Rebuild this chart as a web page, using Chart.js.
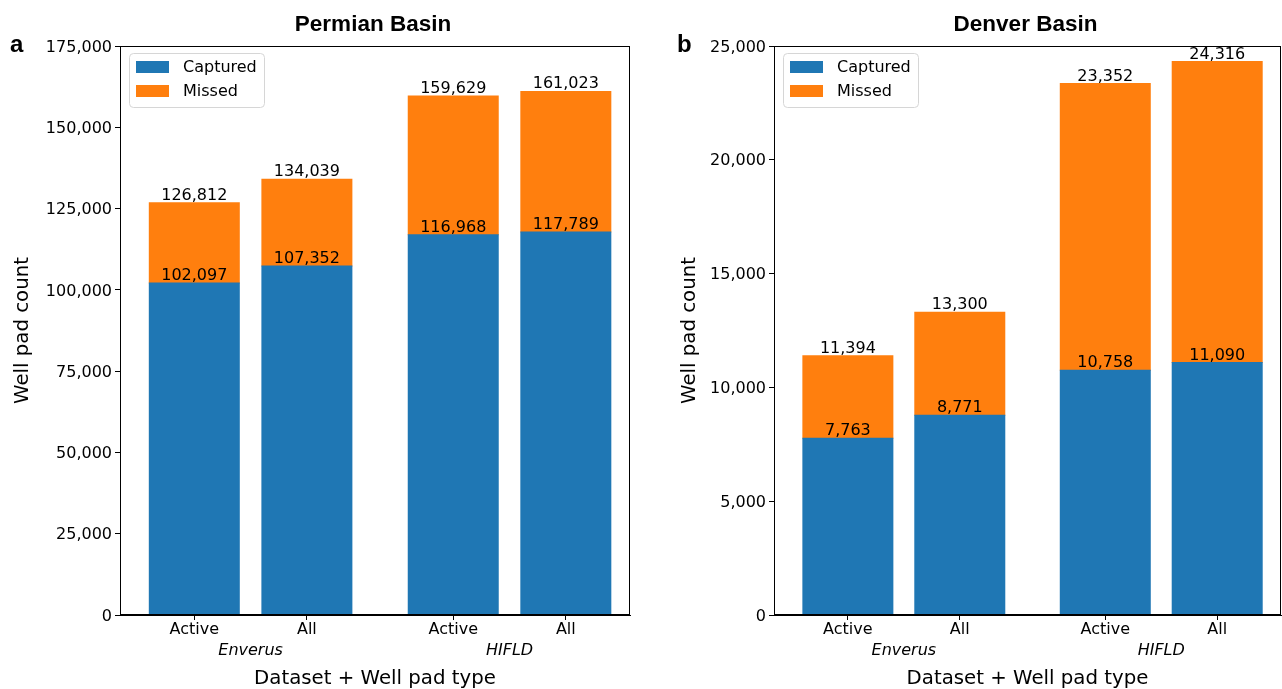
<!DOCTYPE html>
<html>
<head>
<meta charset="utf-8">
<title>Well pads captured and missed</title>
<script src="https://cdn.jsdelivr.net/npm/chart.js@4.4.1/dist/chart.umd.min.js"></script>
<style>
  html, body { margin: 0; padding: 0; background: #ffffff; overflow: hidden; }
  #wrap { position: relative; width: 1282px; height: 689px; }
  .panel { position: absolute; top: 0; width: 641px; height: 689px; }
  #panelA { left: 0; }
  #panelB { left: 641px; }
</style>
</head>
<body>
<div id="wrap">
  <div class="panel" id="panelA"><canvas id="chartA"></canvas></div>
  <div class="panel" id="panelB"><canvas id="chartB"></canvas></div>
</div>
<script>
// Tick labels along the x axis and the dataset each pair belongs to
const wellPadTypes = ['Active', 'All', 'Active', 'All'];
const datasetGroups = ['Enverus', 'HIFLD'];

// Permian Basin well pad counts
const permianCaptured = [102097, 107352, 116968, 117789];
const permianMissed = [24715, 26687, 42661, 43234];

// Denver Basin well pad counts
const denverCaptured = [7763, 8771, 10758, 11090];
const denverMissed = [3631, 4529, 12594, 13226];

// y-axis tick values
const permianTicks = [0, 25000, 50000, 75000, 100000, 125000, 150000, 175000];
const denverTicks = [0, 5000, 10000, 15000, 20000, 25000];

// slot centres on the x axis (pairs separated by a wider gap)
const slotX = [0, 1, 2.3, 3.3];

const BLUE = '#1f77b4';
const ORANGE = '#ff7f0e';
const SANS = "'DejaVu Sans', sans-serif";
const HEAD = "'Liberation Sans', Arial, sans-serif";

const fmt = v => Number(v).toLocaleString('en-US');

// Frame around the plot area (top and right spines)
const framePlugin = {
  id: 'frame',
  afterDraw(chart) {
    const { ctx, chartArea: a } = chart;
    ctx.save();
    ctx.strokeStyle = '#000';
    ctx.lineWidth = 1;
    ctx.strokeRect(Math.round(a.left) + 0.5, Math.round(a.top) + 0.5,
                   Math.round(a.right - a.left) - 1, Math.round(a.bottom - a.top) - 1);
    ctx.restore();
  }
};

// Value labels: captured count on the blue segment, total above the stack
const valueLabelPlugin = {
  id: 'valueLabels',
  afterDatasetsDraw(chart) {
    const { ctx } = chart;
    const cap = chart.data.datasets[0].data;
    const mis = chart.data.datasets[1].data;
    ctx.save();
    ctx.font = `16px ${SANS}`;
    ctx.fillStyle = '#000';
    ctx.textAlign = 'center';
    ctx.textBaseline = 'alphabetic';
    chart.getDatasetMeta(0).data.forEach((bar, i) => {
      ctx.fillText(fmt(cap[i].y), bar.x, bar.y - 3);
    });
    chart.getDatasetMeta(1).data.forEach((bar, i) => {
      ctx.fillText(fmt(cap[i].y + mis[i].y), bar.x, bar.y - 3);
    });
    ctx.restore();
  }
};

// Legend box in the upper-left corner of the plot area
const boxLegendPlugin = {
  id: 'boxLegend',
  afterDraw(chart) {
    const { ctx, chartArea: a } = chart;
    const x = a.left + 9.5, y = a.top + 7.5, w = 135, h = 54, r = 4;
    ctx.save();
    ctx.beginPath();
    ctx.roundRect(x, y, w, h, r);
    ctx.fillStyle = 'rgba(255,255,255,0.8)';
    ctx.fill();
    ctx.strokeStyle = '#d6d6d6';
    ctx.lineWidth = 1;
    ctx.stroke();
    ctx.font = `16px ${SANS}`;
    ctx.textBaseline = 'middle';
    ctx.textAlign = 'left';
    chart.data.datasets.forEach((ds, i) => {
      const cy = a.top + 21 + i * 24;
      ctx.fillStyle = ds.backgroundColor;
      ctx.fillRect(a.left + 16, cy - 6, 33, 12);
      ctx.fillStyle = '#000';
      ctx.fillText(ds.label, a.left + 63, cy + 1);
    });
    ctx.restore();
  }
};

// Italic dataset names under each pair of tick labels
const groupLabelPlugin = {
  id: 'groupLabels',
  afterDraw(chart) {
    const { ctx } = chart;
    const xs = chart.scales.x;
    ctx.save();
    ctx.font = `italic 16px ${SANS}`;
    ctx.fillStyle = '#000';
    ctx.textAlign = 'center';
    ctx.textBaseline = 'alphabetic';
    datasetGroups.forEach((g, k) => {
      const mid = (slotX[2 * k] + slotX[2 * k + 1]) / 2;
      ctx.fillText(g, xs.getPixelForValue(mid), 655);
    });
    ctx.restore();
  }
};

// Panel letter and bold heading
const headingPlugin = {
  id: 'heading',
  afterDraw(chart, args, opts) {
    const { ctx, chartArea: a } = chart;
    ctx.save();
    ctx.fillStyle = '#000';
    ctx.textBaseline = 'alphabetic';
    ctx.font = `bold 22.5px ${HEAD}`;
    ctx.textAlign = 'center';
    ctx.fillText(opts.text, (a.left + a.right) / 2 - 2, 31);
    ctx.font = `bold 24px ${HEAD}`;
    ctx.textAlign = 'left';
    ctx.fillText(opts.letter, opts.letterX, 52);
    ctx.restore();
  }
};

function makePanel(canvasId, cfg) {
  const captured = cfg.captured.map((v, i) => ({ x: slotX[i], y: v }));
  const missed = cfg.missed.map((v, i) => ({ x: slotX[i], y: v }));
  return new Chart(document.getElementById(canvasId), {
    type: 'bar',
    data: {
      datasets: [
        { label: 'Captured', data: captured, backgroundColor: BLUE, borderWidth: 0, barThickness: 90, inflateAmount: 0.5 },
        { label: 'Missed', data: missed, backgroundColor: ORANGE, borderWidth: 0, barThickness: 90, inflateAmount: 0.5 }
      ]
    },
    options: {
      responsive: true,
      maintainAspectRatio: false,
      animation: false,
      events: [],
      layout: { padding: { top: 46, right: cfg.padRight, bottom: 0, left: 0 } },
      plugins: {
        legend: { display: false },
        tooltip: { enabled: false },
        heading: { text: cfg.title, letter: cfg.letter, letterX: cfg.letterX }
      },
      scales: {
        x: {
          type: 'linear',
          stacked: true,
          min: -0.66,
          max: 3.87,
          offset: false,
          afterBuildTicks: s => { s.ticks = slotX.map(v => ({ value: v })); },
          afterFit: s => { s.height = 74; },
          grid: { display: true, offset: false, drawOnChartArea: false, drawTicks: true, tickLength: 5, color: '#000', lineWidth: 1 },
          border: { display: true, color: '#000', width: 1 },
          ticks: {
            autoSkip: false, maxRotation: 0, minRotation: 0, padding: 0,
            color: '#000', font: { family: SANS, size: 16 },
            callback: (v, i) => wellPadTypes[i]
          },
          title: {
            display: true, text: 'Dataset + Well pad type', color: '#000',
            font: { family: SANS, size: 19.75, lineHeight: 1.0 }, padding: { top: 0, bottom: 0 }
          }
        },
        y: {
          stacked: true,
          min: 0,
          max: cfg.ticks[cfg.ticks.length - 1],
          afterBuildTicks: s => { s.ticks = cfg.ticks.map(v => ({ value: v })); },
          afterFit: s => { s.width = cfg.yWidth; },
          grid: { display: true, drawOnChartArea: false, drawTicks: true, tickLength: 5, color: '#000', lineWidth: 1 },
          border: { display: true, color: '#000', width: 1 },
          ticks: {
            padding: 3, labelOffset: 1.5, color: '#000', font: { family: SANS, size: 16 },
            callback: v => fmt(v)
          },
          title: {
            display: true, text: 'Well pad count', color: '#000',
            font: { family: SANS, size: 19.75 }, padding: { top: cfg.yTitlePad, bottom: 0 }
          }
        }
      }
    },
    plugins: [framePlugin, valueLabelPlugin, boxLegendPlugin, groupLabelPlugin, headingPlugin]
  });
}

makePanel('chartA', {
  title: 'Permian Basin', letter: 'a', letterX: 10,
  captured: permianCaptured, missed: permianMissed, ticks: permianTicks,
  yWidth: 120, yTitlePad: 11, padRight: 11
});

makePanel('chartB', {
  title: 'Denver Basin', letter: 'b', letterX: 36,
  captured: denverCaptured, missed: denverMissed, ticks: denverTicks,
  yWidth: 133, yTitlePad: 37, padRight: 1
});
</script>
</body>
</html>
